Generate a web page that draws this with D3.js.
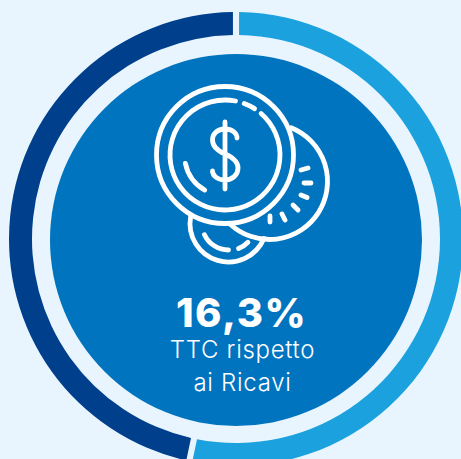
<!DOCTYPE html>
<html><head><meta charset="utf-8">
<script src="https://cdn.jsdelivr.net/npm/d3@7"></script>
<style>html,body{margin:0;padding:0;background:#E8F5FE;overflow:hidden}svg{display:block}text{font-family:Inter,"Open Sans",sans-serif;fill:#fff;text-anchor:middle}</style>
</head><body><svg id="c" width="461" height="459"></svg>
<script>
const categories = ["Altro", "TTC"];
const shares = [53.3, 46.7];
const ringColors = ["#1BA1DE", "#003F8C"];
const headline = "16,3%";
const captionLines = ["TTC rispetto", "ai Ricavi"];

const svg = d3.select("#c");
const g = svg.append("g").attr("transform", "translate(236,239)");
const pie = d3.pie().sort(null).value(d => d)(shares);
const arc = d3.arc().innerRadius(204).outerRadius(227).padAngle(0.027).padRadius(227);
g.selectAll("path.slice").data(pie).join("path").attr("class","slice")
  .attr("d", arc).attr("fill", (d,i) => ringColors[i]);
svg.append("circle").attr("cx",236).attr("cy",240).attr("r", 186).attr("fill", "#0074BF");

// icon
const icon = svg.append("g").attr("fill","none").attr("stroke","#fff").attr("stroke-width",4.8).attr("stroke-linecap","round");
const part = (c,r,a0,a1) => {
  const p = d3.path(), f = a => (a-90)*Math.PI/180;
  p.arc(c[0],c[1],r,f(a0),f(a1));
  icon.append("path").attr("d",p.toString());
};
const A=[225,155], B=[269.5,181.5], C=[228.5,223.5];
icon.append("circle").attr("cx",A[0]).attr("cy",A[1]).attr("r",68.5);
part(A,55,41,371);
part(A,55,20.5,32.5);
part(A,40.5,210,258);
part(B,58,22,223);
part(C,38.5,113,280);
part(C,26.5,180,245);
part(C,27,134,158);
const ticks=[[301,170,308,168],[304,183,311,183],[301,195,307,197.500],[293,205,298,210],[282,214,285,220],[270,216,270,222]];
icon.selectAll("line.t").data(ticks).join("line").attr("class","t").attr("x1",d=>d[0]).attr("y1",d=>d[1]).attr("x2",d=>d[2]).attr("y2",d=>d[3]);
icon.append("path").attr("d","M237,138C237,133 232,129 225,129C217,129 212.500,134 212.500,140C212.500,147 218,151 225,154C232,157 238,161 238,168C238,175 232,180 225,180C218,180 212.500,176 212.500,171M225,122V189");

svg.append("text").attr("x",241.500).attr("y",327).attr("font-size",40).attr("font-weight",800).attr("letter-spacing",1.5).text(headline);
svg.selectAll("text.cap").data(captionLines).join("text").attr("class","cap")
 .attr("x",242.500).attr("y",(d,i)=>358+i*33).attr("font-size",24).attr("font-weight",300).attr("letter-spacing",0.7).text(d=>d);
</script></body></html>
